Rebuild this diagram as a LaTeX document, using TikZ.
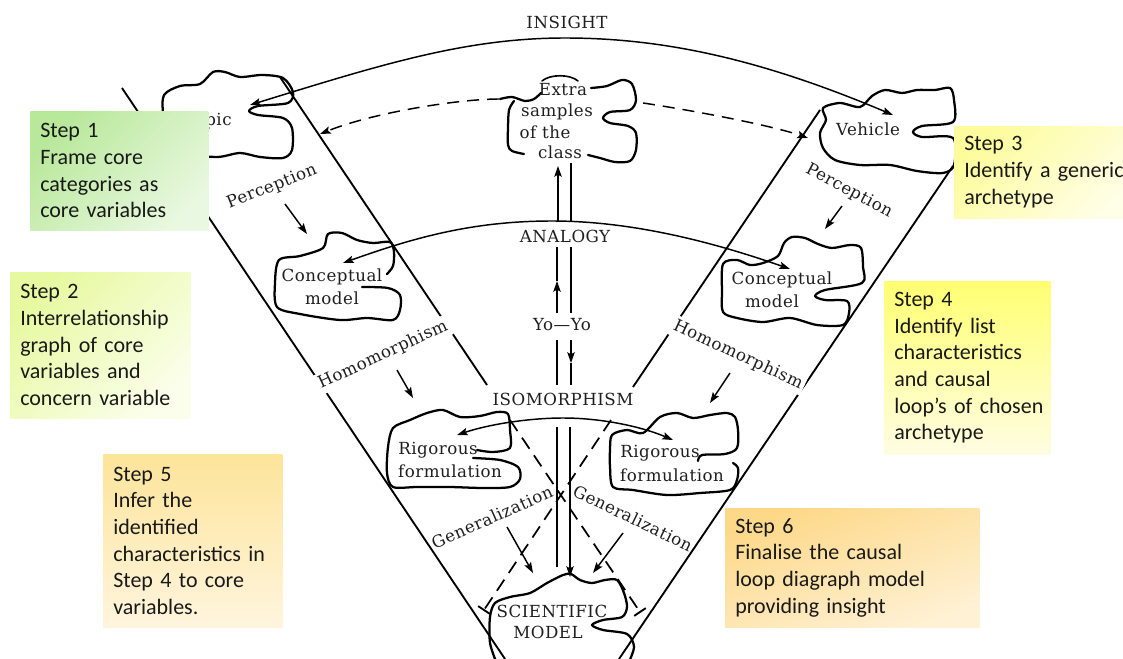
\documentclass[tikz,border=0pt]{standalone}
\usepackage{fontspec}
\setmainfont{Carlito}
\newfontfamily\slabfont[LetterSpace=3]{DejaVu Serif}
\usetikzlibrary{arrows.meta,calc}
\definecolor{sOneA}{HTML}{B8E89A}\definecolor{sOneB}{HTML}{E9F8E0}
\definecolor{sTwoA}{HTML}{E6F9A0}\definecolor{sTwoB}{HTML}{FBFEEA}
\definecolor{sThreeA}{HTML}{FDFC9C}\definecolor{sThreeB}{HTML}{FFFEE6}
\definecolor{sFourA}{HTML}{FFFF72}\definecolor{sFourB}{HTML}{FFFDE2}
\definecolor{sFiveA}{HTML}{FDE49A}\definecolor{sFiveB}{HTML}{FFF5DE}
\definecolor{sSixA}{HTML}{FDD888}\definecolor{sSixB}{HTML}{FFF1D4}
\begin{document}
\hyphenpenalty=10000
\exhyphenpenalty=10000
\begin{tikzpicture}[x=0.75pt,y=-0.75pt,
  fan/.style={line width=1.4pt},
  dashfan/.style={line width=1.3pt, dash pattern=on 10pt off 6pt},
  blob/.style={line width=1.7pt, line join=round, line cap=round},
  con/.style={line width=1.1pt},
  tip/.style={-{Stealth[length=8pt,width=5.5pt,inset=1.5pt]}},
  twotips/.style={{Stealth[length=8pt,width=5.5pt,inset=1.5pt]}-{Stealth[length=8pt,width=5.5pt,inset=1.5pt]}},
  lbl/.style={font=\slabfont\fontsize{12.5}{14}\selectfont, text=black!88, inner sep=1pt},
  band/.style={lbl, fill=white, inner sep=2pt},
  stepbox/.style={anchor=north west, align=left, inner xsep=7.5pt, inner ysep=0pt,
    font=\fontsize{16.5}{20}\selectfont, text=black!90,
    execute at begin node={\hyphenpenalty=10000 \exhyphenpenalty=10000}}]
\useasboundingbox (0,0) rectangle (1123,659);
\fill[white] (0,0) rectangle (1123,659);

% ---- borders of the two bands of the fan ----
\coordinate (LO1) at (122,88);  \coordinate (LO2) at (505,659);
\coordinate (RO1) at (953,166); \coordinate (RO2) at (619,659);
\coordinate (LI1) at (280,77);  \coordinate (LI2) at (487,385);
\coordinate (LI3) at (510,420); \coordinate (LI4) at (640,612);
\coordinate (RI1) at (820,110); \coordinate (RI2) at (633,387);
\coordinate (RI3) at (611,420); \coordinate (RI4) at (484,610);
\draw[fan] (LO1) -- (LO2);
\draw[fan] (RO1) -- (RO2);
\draw[fan] (LI1) -- (LI2);
\draw[fan] (RI1) -- (RI2);
\draw[dashfan] (LI3) -- (LI4);
\draw[dashfan] (RI3) -- (RI4);
\draw[fan] ($(LI4)+(5.8,-3.9)$) -- ($(LI4)+(-5.8,3.9)$);
\draw[fan] ($(RI4)+(5.8,3.9)$) -- ($(RI4)+(-5.8,-3.9)$);

% ---- the four shapes on the left band, the right band and the centre ----
% Topic
\draw[blob] plot[smooth cycle] coordinates {(164,95) (180,86) (200,84) (213,72) (225,72)
  (240,77) (262,75) (283,78) (293,92) (288,103) (258,106) (249,111) (258,115) (283,118)
  (292,128) (292,150) (283,158) (260,157) (240,153) (217,157) (185,153) (166,140) (163,115)};
\node[lbl] (topic) at (208,121) {Topic};
% Vehicle
\draw[blob] plot[smooth cycle] coordinates {(823,108) (840,103) (860,107) (872,96) (885,90)
  (902,93) (917,90) (935,90) (950,88) (954,100) (953,122) (922,126) (913,132) (922,137)
  (953,138) (954,165) (943,173) (917,171) (890,165) (860,165) (835,160) (823,148) (820,133) (826,120)};
\node[lbl] (vehicle) at (868,129) {Vehicle};
% Extra samples of the class
\draw[blob] plot[smooth] coordinates {(500,99) (512,97) (525,101) (534,99) (541,93)};
\draw[blob] plot[smooth] coordinates {(514,101) (509,110) (508,128) (508,145) (512,151) (524,154)};
\draw[blob] plot[smooth] coordinates {(588,155) (600,158) (615,162) (630,161) (636,150)
  (636,133) (628,126) (610,123) (603,118) (610,112) (630,110) (636,100) (632,84) (622,80) (607,86) (591,88)};
\draw[blob, line width=1.2pt] (542,81) .. controls (550,74) and (570,74) .. (578,81);
\node[lbl] (ex1) at (563,90) {Extra};
\node[lbl] (ex2) at (557,112) {samples};
\node[lbl] (ex3) at (545,132) {of the};
\node[lbl] (ex4) at (560,152) {class};
% Conceptual model, left
\draw[blob] plot[smooth] coordinates {(387,274) (393,266) (394,252) (390,242) (373,243)
  (357,240) (342,233) (328,234) (323,248) (300,256) (279,260) (275,283) (277,307) (300,314)
  (340,320) (367,318) (393,320) (400,310) (400,295) (388,288) (362,287)};
\node[lbl] (cm1a) at (332,277) {Conceptual};
\node[lbl] (cm1b) at (332,298) {model};
% Conceptual model, right
\draw[blob] plot[smooth cycle] coordinates {(723,264) (737,260) (750,265) (763,263) (778,256)
  (784,243) (792,237) (805,238) (818,244) (832,248) (850,245) (861,248) (863,267) (862,283)
  (825,290) (815,296) (825,300) (847,301) (849,313) (843,325) (817,325) (790,318) (763,322)
  (737,318) (723,312) (722,292)};
\node[lbl] (cm2a) at (782,280) {Conceptual};
\node[lbl] (cm2b) at (772,301) {model};
% Rigorous formulation, left
\draw[blob] plot[smooth] coordinates {(477,450) (493,452) (510,448) (510,430) (508,414)
  (497,412) (480,416) (460,417) (443,410) (427,413) (410,420) (393,428) (388,447) (387,473)
  (393,487) (417,487) (450,487) (483,488) (510,487) (520,479) (518,467) (500,460) (473,458)};
\node[lbl] (rf1a) at (438,450) {Rigorous};
\node[lbl] (rf1b) at (450,471) {formulation};
% Rigorous formulation, right
\draw[blob] plot[smooth] coordinates {(698,461) (702,455) (725,454) (737,448) (738,430)
  (735,417) (727,413) (710,415) (693,418) (677,413) (660,417) (643,433) (627,430) (612,435)
  (610,450) (610,467) (613,487) (633,490) (667,495) (700,493) (730,490) (737,480) (738,468) (733,463)};
\node[lbl] (rf2a) at (660,453) {Rigorous};
\node[lbl] (rf2b) at (672,475) {formulation};
% Scientific model
\draw[blob] plot[smooth] coordinates {(497,664) (490,643) (490,617) (495,603) (510,597)
  (530,593) (547,583) (563,575) (571,574) (580,580) (592,583) (605,580) (617,580) (624,593)
  (627,607) (622,617) (603,620) (592,625) (603,630) (627,634) (634,647) (628,664)};
\node[lbl] (sm1) at (552,611) {SCIENTIFIC};
\node[lbl] (sm2) at (548,632) {MODEL};

% ---- level names ----
\node[lbl] (insight) at (567,22) {INSIGHT};
\node[lbl] (analogy) at (565,236) {ANALOGY};
\node[lbl] (yoyo) at (562,325) {Yo—Yo};
\node[lbl] (iso) at (563,399) {ISOMORPHISM};

% ---- arcs between the bands ----
\coordinate (IA) at (250,105); \coordinate (IM) at (565,38); \coordinate (IB) at (893,115);
\draw[con, twotips] (IA) .. controls (380,65) and (465,38) .. (IM)
  .. controls (665,38) and (763,60) .. (IB);
\coordinate (DA) at (499,99); \coordinate (DB) at (320,134);
\coordinate (DC) at (643,103); \coordinate (DD) at (808,138);
\draw[con, tip, dash pattern=on 9pt off 6pt] (DA) .. controls (460,99) and (375,112) .. (DB);
\draw[con, tip, dash pattern=on 9pt off 6pt] (DC) .. controls (690,110) and (770,125) .. (DD);
\coordinate (AA) at (343,263); \coordinate (AM) at (552,221); \coordinate (AB) at (790,269);
\draw[con, twotips] (AA) .. controls (413,238) and (472,221) .. (AM)
  .. controls (630,221) and (710,241) .. (AB);
\coordinate (BA) at (457,435); \coordinate (BM) at (563,418); \coordinate (BB) at (673,440);
\draw[con, twotips] (BA) .. controls (490,424) and (530,418) .. (BM)
  .. controls (600,418) and (640,426) .. (BB);

% ---- steps along each band ----
\coordinate (p1a) at (285,204); \coordinate (p1b) at (307,234);
\coordinate (p2a) at (842,206); \coordinate (p2b) at (825,229);
\coordinate (h1a) at (397,370); \coordinate (h1b) at (413,398);
\coordinate (h2a) at (730,373); \coordinate (h2b) at (710,403);
\coordinate (g1a) at (507,527); \coordinate (g1b) at (533,573);
\coordinate (g2a) at (623,533); \coordinate (g2b) at (593,573);
\foreach \a/\b in {p1a/p1b,p2a/p2b,h1a/h1b,h2a/h2b,g1a/g1b,g2a/g2b}
  \draw[con, tip] (\a) -- (\b);

% ---- central links ----
\coordinate (c1a) at (558,222); \coordinate (c1b) at (558,166);
\coordinate (c1c) at (571,222); \coordinate (c1d) at (571,163);
\draw[con, tip] (c1a) -- (c1b);
\draw[con] (c1c) -- (c1d);
\coordinate (c2a) at (557,313); \coordinate (c2m) at (557,281); \coordinate (c2b) at (557,247);
\coordinate (c2c) at (571,313); \coordinate (c2d) at (571,247);
\draw[con, tip] (c2a) -- (c2m);
\draw[con] (c2m) -- (c2b);
\draw[con] (c2c) -- (c2d);
\coordinate (c3a) at (557,340); \coordinate (c3b) at (557,385);
\coordinate (c3c) at (571,340); \coordinate (c3m) at (571,363); \coordinate (c3d) at (571,385);
\draw[con] (c3a) -- (c3b);
\draw[con, tip] (c3c) -- (c3m);
\draw[con] (c3m) -- (c3d);
\coordinate (c4a) at (557,427); \coordinate (c4b) at (557,567);
\coordinate (c4c) at (570,427); \coordinate (c4d) at (570,577);
\draw[con] (c4a) -- (c4b);
\draw[con, tip] (c4c) -- (c4d);

% ---- names of the passages ----
\node[band, rotate=22] (perc1) at (272,187) {Perception};
\node[band, rotate=-28] (perc2) at (849,191) {Perception};
\node[band, rotate=25] (hom1) at (383,355) {Homomorphism};
\node[band, rotate=-25] (hom2) at (738,355) {Homomorphism};
\node[lbl, rotate=24] (gen1) at (492,517) {Generalization};
\node[lbl, rotate=-26] (gen2) at (633,518) {Generalization};

% ---- method steps ----
\node[stepbox, top color=sOneA, bottom color=sOneB, shading angle=45,
  minimum width=133.5pt, minimum height=89.25pt, text width=118.5pt] (s1) at (30,111)
  {Step~1\\Frame~core\\categories~as\\core~variables};
\node[stepbox, top color=sTwoA, bottom color=sTwoB, shading angle=45,
  minimum width=135pt, minimum height=109.5pt, text width=120pt] (s2) at (10,272)
  {Step~2\\Interrelationship\\graph~of~core\\variables~and\\concern~variable};
\node[stepbox, top color=sThreeA, bottom color=sThreeB, shading angle=45,
  minimum width=135pt, minimum height=69pt, text width=120pt] (s3) at (954,126)
  {Step~3\\Identify~a~generic\\archetype};
\node[stepbox, top color=sFourA, bottom color=sFourB,
  minimum width=124.5pt, minimum height=129.75pt, text width=109.5pt] (s4) at (884,281)
  {Step~4\\Identify~list\\characteristics\\and~causal\\\mbox{loop’s~of~chosen}\\archetype};
\node[stepbox, top color=sFiveA, bottom color=sFiveB,
  minimum width=134.25pt, minimum height=129.75pt, text width=119.25pt] (s5) at (103,454)
  {Step~5\\Infer~the\\identified\\characteristics~in\\Step~4~to~core\\variables.};
\node[stepbox, top color=sSixA, bottom color=sSixB, shading angle=20,
  minimum width=190.5pt, minimum height=89.25pt, text width=175.5pt] (s6) at (725,508)
  {Step~6\\Finalise~the~causal\\loop~diagraph~model\\providing~insight};
\end{tikzpicture}
\end{document}
